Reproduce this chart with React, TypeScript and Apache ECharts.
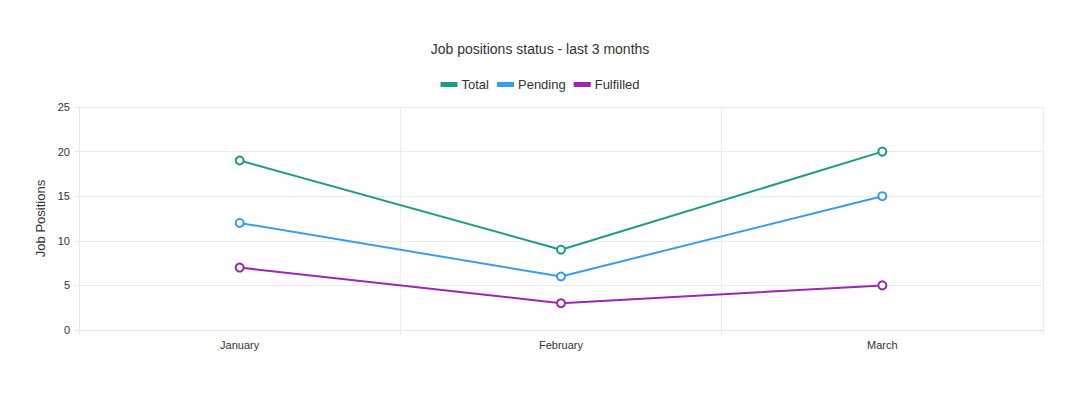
import React, { useEffect, useRef } from "react";
import * as echarts from "echarts";

const months = ["January", "February", "March"];
const totalValues = [19, 9, 20];
const pendingValues = [12, 6, 15];
const fulfilledValues = [7, 3, 5];
const seriesNames = ["Total", "Pending", "Fulfilled"];
const seriesColors = ["#1f9a86", "#3a9cec", "#9c27b0"];

const FONT = "'Liberation Sans', Arial, sans-serif";

export default function App() {
  const ref = useRef<HTMLDivElement>(null);
  useEffect(() => {
    document.body.style.margin = "0";
    const chart = echarts.init(ref.current!, null, { renderer: "svg" });
    const values = [totalValues, pendingValues, fulfilledValues];
    chart.setOption({
      animation: false,
      textStyle: { fontFamily: FONT },
      title: {
        text: "Job positions status - last 3 months",
        left: "center",
        top: 37,
        textStyle: { fontSize: 14, fontWeight: "normal", color: "#333", fontFamily: FONT },
      },
      legend: {
        top: 73,
        left: "center",
        icon: "rect",
        itemWidth: 15,
        itemHeight: 3,
        itemGap: 8,
        textStyle: { fontSize: 13, color: "#333", fontFamily: FONT },
        data: seriesNames,
      },
      grid: { left: 79, right: 37, top: 107, bottom: 67, containLabel: false },
      xAxis: {
        type: "category",
        data: months,
        boundaryGap: true,
        axisLine: { show: true, lineStyle: { color: "#e6e6e6" } },
        axisTick: { show: true, length: 4, lineStyle: { color: "#e6e6e6" } },
        splitLine: { show: true, lineStyle: { color: "#ececec" } },
        axisLabel: { fontSize: 11, color: "#333", margin: 9, fontFamily: FONT },
      },
      yAxis: {
        type: "value",
        min: 0,
        max: 25,
        interval: 5,
        name: "Job Positions",
        nameLocation: "middle",
        nameGap: 31,
        nameTextStyle: { fontSize: 13, color: "#333", fontFamily: FONT },
        axisLine: { show: true, lineStyle: { color: "#e6e6e6" } },
        axisTick: { show: true, length: 4, lineStyle: { color: "#e6e6e6" } },
        splitLine: { show: true, lineStyle: { color: "#ececec" } },
        axisLabel: { fontSize: 11, color: "#333", margin: 9, fontFamily: FONT },
      },
      series: seriesNames.map((name, i) => ({
        name,
        type: "line",
        data: values[i],
        symbol: "emptyCircle",
        symbolSize: 8,
        lineStyle: { width: 2, color: seriesColors[i] },
        itemStyle: { color: seriesColors[i], borderWidth: 2, borderColor: seriesColors[i] },
      })),
    });
    return () => chart.dispose();
  }, []);
  return <div ref={ref} style={{ width: 1080, height: 397 }} />;
}
